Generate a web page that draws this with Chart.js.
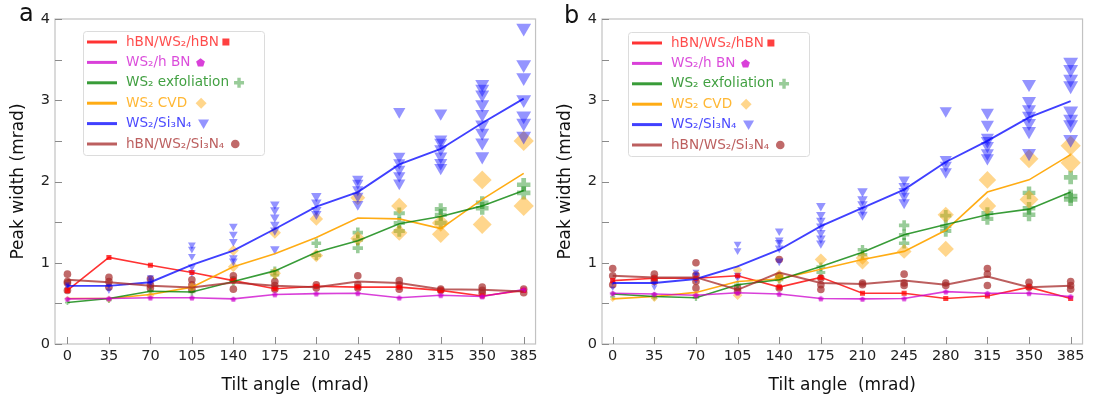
<!DOCTYPE html>
<html>
<head>
<meta charset="utf-8">
<script src="https://cdn.jsdelivr.net/npm/chart.js@4.4.1/dist/chart.umd.min.js"></script>
<style>
  body { margin: 0; background: #fff; }
  #wrap { position: relative; width: 1094px; height: 400px; }
  canvas { position: absolute; top: 0; }
</style>
</head>
<body>
<div id="wrap">
  <canvas id="chartA" width="547" height="400" style="left:0"></canvas>
  <canvas id="chartB" width="547" height="400" style="left:547px"></canvas>
</div>
<script>
// tilt angles (mrad), same for every series
const angles = [0, 35, 70, 105, 140, 175, 210, 245, 280, 315, 350, 385]
const seriesNames = ['hBN/WS₂/hBN', 'WS₂/h BN', 'WS₂ exfoliation', 'WS₂ CVD', 'WS₂/Si₃N₄', 'hBN/WS₂/Si₃N₄']

// ---- panel a : mean lines ----
const aHbnHbn = [0.66, 1.065, 0.97, 0.88, 0.78, 0.68, 0.71, 0.70, 0.70, 0.66, 0.59, 0.66]
const aHbn = [0.555, 0.56, 0.57, 0.57, 0.555, 0.61, 0.62, 0.625, 0.57, 0.60, 0.585, 0.67]
const aExfMean = [0.51, 0.56, 0.65, 0.64, 0.77, 0.90, 1.13, 1.27, 1.48, 1.57, 1.70, 1.89]
const aCvdMean = [0.56, 0.56, 0.61, 0.70, 0.95, 1.11, 1.31, 1.55, 1.54, 1.42, 1.78, 2.10]
const aSiMean = [0.716, 0.716, 0.76, 0.975, 1.15, 1.415, 1.69, 1.87, 2.21, 2.40, 2.72, 3.02]
const aHbnSiMean = [0.79, 0.76, 0.716, 0.695, 0.757, 0.716, 0.70, 0.77, 0.75, 0.675, 0.667, 0.646]

// ---- panel a : single measurements, one list per angle ----
const aExfPts = [[0.51], [0.54], [0.65], [0.64], [0.77], [0.90, 0.85], [1.24, 1.09], [1.37, 1.28, 1.18],
  [1.61, 1.49, 1.39], [1.66, 1.59, 1.49], [1.74, 1.67], [1.96, 1.86]]
const aCvdPts = [[0.56], [0.55], [0.60], [0.70], [1.15, 0.95], [1.37, 0.87], [1.54, 1.09], [1.80, 1.30],
  [1.70, 1.37], [1.35, 1.49], [2.02, 1.47], [2.50, 1.70]]
const aSiPts = [
  [0.70, 0.72, 0.74],
  [0.72, 0.66],
  [0.82, 0.78, 0.74],
  [1.22, 1.17, 1.08, 0.95, 0.88],
  [1.45, 1.35, 1.26, 1.06, 1.02],
  [1.72, 1.65, 1.56, 1.47, 1.40, 1.17],
  [1.82, 1.74, 1.65, 1.60],
  [2.03, 1.98, 1.90, 1.82, 1.72],
  [2.86, 2.31, 2.23, 2.15, 2.07, 1.98],
  [2.84, 2.52, 2.48, 2.40, 2.31, 2.23, 2.17],
  [3.20, 3.14, 3.07, 2.95, 2.83, 2.70, 2.60, 2.48, 2.31],
  [3.89, 3.44, 3.28, 3.01, 2.81, 2.72, 2.56]
]
const aHbnSiPts = [[0.86, 0.77, 0.75, 0.66], [0.82, 0.77, 0.70], [0.80, 0.73, 0.69], [0.79, 0.73, 0.67],
  [0.84, 0.79, 0.675], [0.77, 0.72, 0.675], [0.73, 0.69], [0.84, 0.73, 0.69], [0.78, 0.73, 0.675],
  [0.675, 0.66], [0.70, 0.66, 0.625], [0.675, 0.63]]

// ---- panel b : mean lines ----
const bHbnHbn = [0.78, 0.81, 0.81, 0.84, 0.70, 0.82, 0.625, 0.625, 0.56, 0.59, 0.70, 0.56]
const bHbn = [0.625, 0.615, 0.60, 0.63, 0.615, 0.56, 0.555, 0.56, 0.645, 0.625, 0.625, 0.585]
const bExfMean = [0.615, 0.585, 0.57, 0.73, 0.79, 0.955, 1.13, 1.345, 1.47, 1.59, 1.66, 1.87]
const bCvdMean = [0.555, 0.585, 0.635, 0.77, 0.80, 0.92, 1.04, 1.14, 1.40, 1.87, 2.02, 2.33]
const bSiMean = [0.75, 0.75, 0.80, 0.955, 1.16, 1.45, 1.675, 1.90, 2.24, 2.50, 2.79, 2.99]
const bHbnSiMean = [0.84, 0.82, 0.82, 0.667, 0.88, 0.75, 0.74, 0.78, 0.73, 0.83, 0.70, 0.716]

// ---- panel b : single measurements ----
const bExfPts = [[0.62, 0.58], [0.57, 0.60], [0.57], [0.73], [0.79, 0.83], [0.95, 0.88], [1.16, 1.10],
  [1.46, 1.345, 1.24], [1.58, 1.45, 1.39], [1.61, 1.54], [1.86, 1.67, 1.59], [2.05, 1.82, 1.78]]
const bCvdPts = [[0.55], [0.56], [0.60], [0.91, 0.60], [0.85, 0.81], [1.04], [1.06, 1.00], [1.14],
  [1.59, 1.17], [2.02, 1.70], [2.28, 1.78], [2.44, 2.23]]
const bSiPts = [
  [0.78, 0.75, 0.69],
  [0.75, 0.70],
  [0.89, 0.85, 0.79],
  [1.23, 1.15, 0.85, 0.82],
  [1.39, 1.28, 1.25, 1.18, 1.02],
  [1.70, 1.59, 1.52, 1.45, 1.37, 1.30, 1.24],
  [1.88, 1.78, 1.72, 1.65, 1.59],
  [2.02, 1.94, 1.88, 1.82, 1.74],
  [2.87, 2.27, 2.20, 2.12],
  [2.85, 2.70, 2.54, 2.50, 2.44, 2.35, 2.29],
  [3.20, 2.99, 2.89, 2.81, 2.72, 2.62, 2.35],
  [3.47, 3.38, 3.26, 3.18, 2.87, 2.77, 2.70, 2.52]
]
const bHbnSiPts = [[0.93, 0.84, 0.73], [0.86, 0.81, 0.77], [1.00, 0.85, 0.77, 0.69], [0.69, 0.65],
  [1.04, 0.83, 0.69], [0.81, 0.73, 0.67], [0.75, 0.73], [0.86, 0.75, 0.72], [0.75, 0.72],
  [0.93, 0.86, 0.72], [0.76, 0.70], [0.77, 0.72, 0.675]]

// styles
const lineColors = ['rgba(255,0,0,0.8)', 'rgba(204,0,204,0.75)', 'rgba(0,128,0,0.78)',
  'rgba(255,165,0,0.92)', 'rgba(0,0,255,0.75)', 'rgba(165,42,42,0.75)']
const lineWidths = [1.6, 1.6, 1.6, 1.6, 1.9, 2]
const fills = ['rgba(255,0,0,0.75)', 'rgba(204,0,204,0.75)', 'rgba(0,128,0,0.4)',
  'rgba(255,165,0,0.45)', 'rgba(0,0,255,0.42)', 'rgba(165,42,42,0.7)']
const textColors = ['rgba(255,0,0,0.7)', 'rgba(204,0,204,0.7)', 'rgba(0,128,0,0.75)',
  'rgba(255,165,0,0.8)', 'rgba(0,0,255,0.72)', 'rgba(165,42,42,0.75)']
const markerKinds = ['square', 'pentagon', 'plus', 'diamond', 'triangle', 'circle']
const markerGaps = [7, 10, 10, 14, 12, 11]
const FONT = '"DejaVu Sans", sans-serif'

// markers grow with tilt angle
const triR = c => c.raw ? 3 + 0.0145 * c.raw.x : 3
const diaR = c => c.raw ? 2.8 + 0.019 * c.raw.x : 3
const crossR = c => c.raw ? 2.5 + 0.011 * c.raw.x : 3

function pentagonPath(ctx, x, y, r) {
  ctx.beginPath()
  for (let k = 0; k < 5; k++) {
    const ang = -Math.PI / 2 + k * 2 * Math.PI / 5
    const px = x + r * Math.cos(ang), py = y + r * Math.sin(ang)
    k ? ctx.lineTo(px, py) : ctx.moveTo(px, py)
  }
  ctx.closePath()
}

function pentagonImage(r, color) {
  const c = document.createElement('canvas')
  c.width = c.height = Math.ceil(2 * r + 2)
  const g = c.getContext('2d')
  g.fillStyle = color
  pentagonPath(g, c.width / 2, c.height / 2 + 0.4, r)
  g.fill()
  return c
}
const pentImg = pentagonImage(3, fills[1])

function meanLine(vals, i, extra) {
  return Object.assign({
    data: angles.map((a, k) => ({ x: a, y: vals[k] })),
    showLine: true, borderColor: lineColors[i], borderWidth: lineWidths[i],
    tension: 0, fill: false, pointRadius: 0, pointBorderWidth: 0, order: 1
  }, extra)
}

function cloud(groups, extra) {
  return Object.assign({
    data: groups.flatMap((g, k) => g.map(v => ({ x: angles[k], y: v }))),
    showLine: false, pointBorderWidth: 0, order: 2
  }, extra)
}

function panelSets(p) {
  return [
    cloud(p.hbnSi, { pointStyle: 'circle', pointRadius: 3.8, pointBackgroundColor: fills[5], order: 6 }),
    cloud(p.exf, { pointStyle: 'cross', pointRadius: crossR, pointBorderWidth: c => crossR(c) * 0.7,
      pointBorderColor: fills[2], order: 5 }),
    cloud(p.cvd, { pointStyle: 'rectRot', pointRadius: diaR, pointBackgroundColor: fills[3], order: 4 }),
    cloud(p.si, { pointStyle: 'triangle', pointRotation: 180, pointRadius: triR,
      pointBackgroundColor: fills[4], order: 3 }),
    meanLine(p.hbnSiMean, 5),
    meanLine(p.hbn, 1, { pointStyle: pentImg, pointRadius: 3 }),
    meanLine(p.exfMean, 2),
    meanLine(p.cvdMean, 3),
    meanLine(p.siMean, 4),
    meanLine(p.hbnHbn, 0, { pointStyle: 'rect', pointRadius: 3.6, pointBackgroundColor: fills[0] })
  ]
}

// frame on all four sides and short inward ticks
const framePlugin = {
  id: 'frame',
  beforeDatasetsDraw(chart) {
    const { ctx, chartArea: a, scales } = chart
    ctx.save()
    ctx.strokeStyle = '#c2c2c2'
    ctx.lineWidth = 1.2
    ctx.strokeRect(a.left, a.top, a.right - a.left, a.bottom - a.top)
    ctx.strokeStyle = '#8a8a8a'
    ctx.lineWidth = 1
    ctx.beginPath()
    scales.x.ticks.forEach(t => {
      const px = Math.round(scales.x.getPixelForValue(t.value)) + 0.5
      ctx.moveTo(px, a.bottom); ctx.lineTo(px, a.bottom - 7)
    })
    scales.y.ticks.forEach(t => {
      const py = Math.round(scales.y.getPixelForValue(t.value)) + 0.5
      ctx.moveTo(a.left, py); ctx.lineTo(a.left + 7, py)
    })
    ctx.stroke()
    ctx.restore()
  }
}

function drawMarker(ctx, kind, x, y, color) {
  ctx.fillStyle = color
  ctx.strokeStyle = color
  if (kind === 'square') {
    ctx.fillRect(x - 3.5, y - 3.5, 7, 7)
  } else if (kind === 'pentagon') {
    pentagonPath(ctx, x, y + 0.5, 4.6); ctx.fill()
  } else if (kind === 'plus') {
    ctx.lineWidth = 3.4
    ctx.beginPath()
    ctx.moveTo(x - 5, y); ctx.lineTo(x + 5, y)
    ctx.moveTo(x, y - 5); ctx.lineTo(x, y + 5)
    ctx.stroke()
  } else if (kind === 'diamond') {
    ctx.beginPath()
    ctx.moveTo(x - 5.5, y); ctx.lineTo(x, y - 5.5); ctx.lineTo(x + 5.5, y); ctx.lineTo(x, y + 5.5)
    ctx.closePath(); ctx.fill()
  } else if (kind === 'triangle') {
    ctx.beginPath()
    ctx.moveTo(x - 5.5, y - 4); ctx.lineTo(x + 5.5, y - 4); ctx.lineTo(x, y + 5.5)
    ctx.closePath(); ctx.fill()
  } else {
    ctx.beginPath(); ctx.arc(x, y, 4.3, 0, Math.PI * 2); ctx.fill()
  }
}

// legend box with coloured text and a marker after each label, plus panel letter
const legendPlugin = {
  id: 'legendBox',
  afterDraw(chart, args, opts) {
    const ctx = chart.ctx
    const x0 = opts.x, y0 = opts.y, w = 181, h = 124
    ctx.save()
    ctx.fillStyle = 'rgba(255,255,255,0.85)'
    ctx.strokeStyle = '#dcdcdc'
    ctx.lineWidth = 1
    ctx.beginPath()
    ctx.roundRect(x0 + 0.5, y0 + 0.5, w, h, 3)
    ctx.fill(); ctx.stroke()
    ctx.font = '13.6px ' + FONT
    ctx.textBaseline = 'middle'
    seriesNames.forEach((name, i) => {
      const cy = y0 + 11 + i * 20.4
      ctx.strokeStyle = lineColors[i]
      ctx.lineWidth = 3
      ctx.beginPath(); ctx.moveTo(x0 + 4, cy); ctx.lineTo(x0 + 34, cy); ctx.stroke()
      ctx.fillStyle = textColors[i]
      ctx.fillText(name, x0 + 43, cy)
      const tw = ctx.measureText(name).width
      drawMarker(ctx, markerKinds[i], x0 + 43 + tw + markerGaps[i], cy, fills[i])
    })
    ctx.fillStyle = '#111'
    ctx.font = '24px ' + FONT
    ctx.textBaseline = 'alphabetic'
    ctx.fillText(opts.letter, opts.lx, opts.ly)
    ctx.restore()
  }
}

function makeChart(id, sets, xmin, xmax, padRight, legend) {
  return new Chart(document.getElementById(id), {
    type: 'scatter',
    data: { datasets: sets },
    options: {
      responsive: false, animation: false, devicePixelRatio: 1,
      layout: { padding: { left: 0, right: padRight, top: 19, bottom: 0 } },
      plugins: { legend: { display: false }, tooltip: { enabled: false }, legendBox: legend },
      scales: {
        x: {
          type: 'linear', min: xmin, max: xmax,
          afterBuildTicks: s => { s.ticks = angles.map(v => ({ value: v })) },
          grid: { display: false, drawTicks: false }, border: { display: false },
          ticks: { font: { family: FONT, size: 14.5 }, color: '#222', padding: 4, autoSkip: false, maxRotation: 0 },
          title: { display: true, text: 'Tilt angle  (mrad)', font: { family: FONT, size: 17 }, color: '#111',
            padding: { top: 0, bottom: 4 } },
          afterFit: s => { s.height = 56; s.paddingLeft = 0; s.paddingRight = 0 }
        },
        y: {
          min: 0, max: 4,
          grid: { display: false, drawTicks: false }, border: { display: false },
          ticks: { stepSize: 0.5, autoSkip: false, font: { family: FONT, size: 14.5 }, color: '#222', padding: 5,
            callback: v => Number.isInteger(v) ? v : '' },
          title: { display: true, text: 'Peak width (mrad)', font: { family: FONT, size: 17 }, color: '#111',
            padding: { top: 8, bottom: 0 } },
          afterFit: s => { s.width = 55; s.paddingTop = 0; s.paddingBottom = 0 }
        }
      }
    },
    plugins: [framePlugin, legendPlugin]
  })
}

makeChart('chartA', panelSets({
  hbnHbn: aHbnHbn, hbn: aHbn, exfMean: aExfMean, cvdMean: aCvdMean, siMean: aSiMean, hbnSiMean: aHbnSiMean,
  exf: aExfPts, cvd: aCvdPts, si: aSiPts, hbnSi: aHbnSiPts
}), -10.5, 395, 2, { x: 83, y: 31, letter: 'a', lx: 19, ly: 21 })

makeChart('chartB', panelSets({
  hbnHbn: bHbnHbn, hbn: bHbn, exfMean: bExfMean, cvdMean: bCvdMean, siMean: bSiMean, hbnSiMean: bHbnSiMean,
  exf: bExfPts, cvd: bCvdPts, si: bSiPts, hbnSi: bHbnSiPts
}), -9, 395, 3, { x: 81, y: 32, letter: 'b', lx: 17, ly: 22.5 })
</script>
</body>
</html>
